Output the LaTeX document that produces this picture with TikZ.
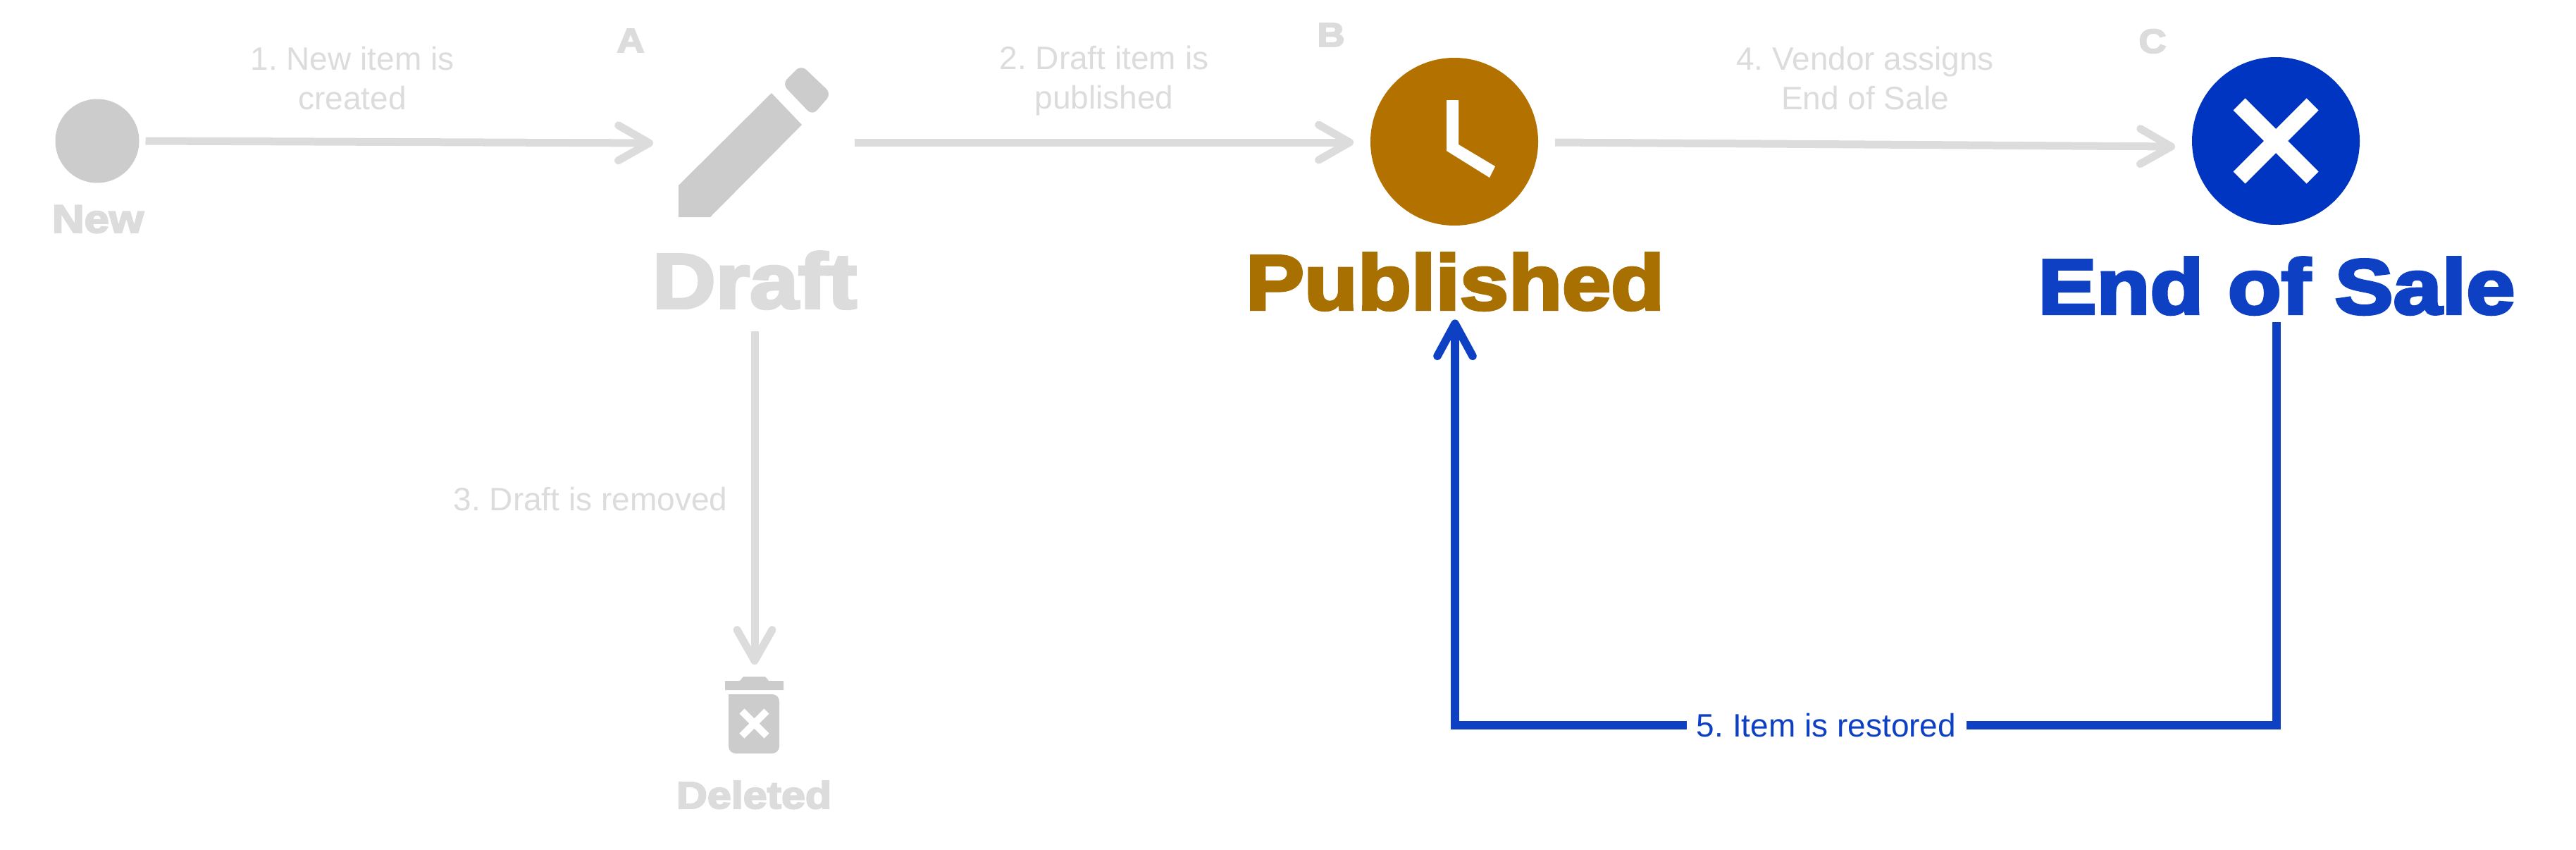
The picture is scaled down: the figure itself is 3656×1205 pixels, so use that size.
\documentclass[tikz,border=0pt]{standalone}
\usepackage{fontspec}
\usetikzlibrary{arrows.meta}
\setmainfont{Liberation Sans}
\newfontfamily\heavyfont{Liberation Sans}[BoldFeatures={FakeBold=4,FakeStretch=1.13}]
\definecolor{muted}{HTML}{DCDCDC}
\definecolor{icongray}{HTML}{CCCCCC}
\definecolor{amberfill}{HTML}{B37200}
\definecolor{ambertext}{HTML}{A87000}
\definecolor{bluefill}{HTML}{0035C2}
\definecolor{bluetext}{HTML}{0E40C4}
\tikzset{
  iconcircle/.style = {circle, inner sep=0, minimum size=119pt, outer sep=12pt},
  iconbox/.style    = {inner sep=0, outer sep=0},
  heavy/.style      = {anchor=base, inner sep=0, text depth=0pt, font=\heavyfont\bfseries\fontsize{#1}{#1}\selectfont},
  steptext/.style   = {align=center, inner sep=0, text=muted, font=\frenchspacing\fontsize{23}{28}\selectfont},
  flow/.style       = {draw=muted, line width=5.5pt, -{Straight Barb[length=22pt,width=25pt,round]}},
  restore/.style    = {draw=bluetext, line width=5.75pt}
}

\begin{document}
\begin{tikzpicture}[x=0.5pt, y=-0.5pt]
  \useasboundingbox (0,0) rectangle (3656,1205);

  % icons
  \node [iconcircle, minimum size=59.5pt, fill=icongray, outer sep=4.5pt] (new) at (138,200) {};
  \node [iconbox, minimum width=143pt, minimum height=107pt] (pencil) at (1070,202) {};
  \fill[icongray] (963,308) -- (963,263) -- (1095,132) -- (1138,177) -- (1008,308) -- cycle;
  \fill[icongray, rounded corners=5pt] (1110,119) -- (1137,92) -- (1180,133) -- (1153,164) -- cycle;
  \node [iconcircle, fill=amberfill] (published) at (2064,201) {};
  \fill[white] (2053,142) -- (2070,142) -- (2070,205) -- (2122,236) -- (2114,252) -- (2053,214) -- cycle;
  \node [iconcircle, fill=bluefill] (endofsale) at (3230,200) {};
  \draw[white, line width=12pt] (3178,148) -- (3282,252) (3178,252) -- (3282,148);
  \node [iconbox, minimum width=41.5pt, minimum height=63pt] (trash) at (1071,1006) {};
  \fill[icongray] (1029,979) -- (1029,966) -- (1050,966) -- (1055,960) -- (1086,960) -- (1091,966) -- (1112,966) -- (1112,979) -- cycle;
  \fill[icongray, rounded corners=5pt] (1034,985) -- (1034,1069) -- (1106,1069) -- (1106,985) [sharp corners] -- cycle;
  \draw[white, line width=5pt] (1053,1009) -- (1088,1044) (1053,1044) -- (1088,1009);

  % state names
  \node [heavy=28, text=muted] (newname) at (139,330) {New};
  \node [heavy=55, text=muted, inner ysep=16.5pt] (draftname) at (1071,437) {Draft};
  \node [heavy=55, text=ambertext, inner ysep=7pt] (publishedname) at (2065,439) {Published};
  \node [heavy=55, text=bluetext, inner ysep=6pt] (endofsalename) at (3231,445) {End of Sale};
  \node [heavy=27, text=muted] (deletedname) at (1070,1147) {Deleted};
  \node [heavy=24, text=muted] (marka) at (895,74) {A};
  \node [heavy=24, text=muted] (markb) at (1889,66) {B};
  \node [heavy=24, text=muted] (markc) at (3055,75) {C};

  % transitions
  \draw[flow] (new.east) -- ([shift={(0,1)}]pencil.west);
  \draw[flow] (pencil.east) -- ([shift={(0,1)}]published.west);
  \draw[flow] ([shift={(0,1)}]published.east) -- ([shift={(0,8)}]endofsale.west);
  \draw[flow] (draftname.south) -- (trash.north);
  \node [steptext] (step1) at (500,111) {1. New item is\\created};
  \node [steptext] (step2) at (1567,115) {2. Draft item is\\published};
  \node [steptext] (step3) at (838,708) {3. Draft is removed};
  \node [steptext] (step4) at (2647,111) {4. Vendor assigns\\End of Sale};
  \node [steptext, text=bluetext, inner xsep=7pt] (step5) at (2592,1029) {5. Item is restored};
  \draw[restore] (step5) -| (endofsalename.south);
  \draw[restore, -{Straight Barb[length=23pt,width=25pt,round]}] (step5) -| (publishedname.south);
\end{tikzpicture}
\end{document}
